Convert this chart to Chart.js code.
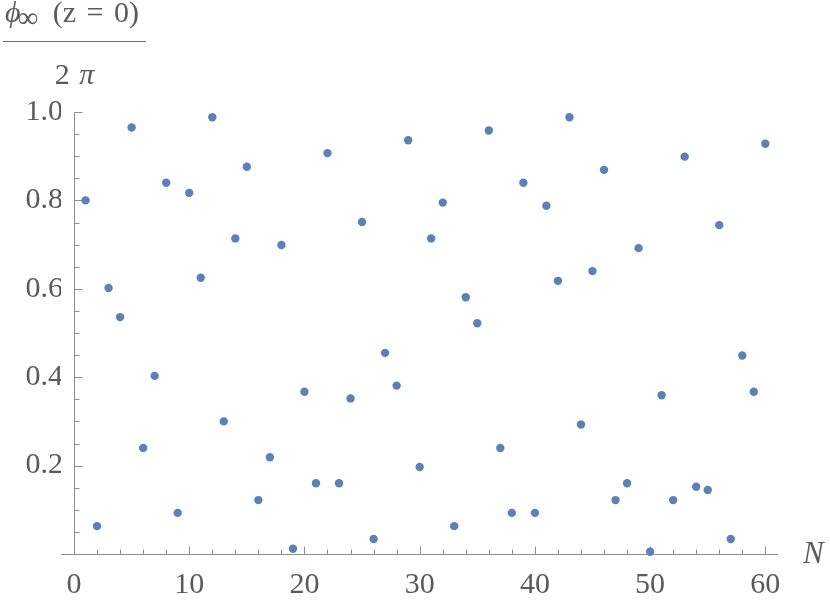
<!DOCTYPE html>
<html lang="en">
<head>
<meta charset="UTF-8" />
<title>phi_inf(z=0) / 2 pi vs N</title>
<style>
  body {
    margin: 0;
    background: white;
  }

  .wrap {
    position: relative;
    width: 830px;
    height: 608px;
    font-family: "Liberation Serif", "Times New Roman", serif;
    color: #5a5a5a;
  }

  .ylabel {
    position: absolute;
    left: 3px;
    top: -3px;
    font-size: 30px;
    line-height: 30px;
    text-align: center;
  }

  .ylabel .num {
    width: 141px;
    border-bottom: 1.5px solid #6e6e6e;
    padding: 0 0 14px 2px;
    white-space: nowrap;
    text-align: left;
    word-spacing: 3px;
  }

  .ylabel .num sub {
    font-size: 29px;
    vertical-align: -5px;
    line-height: 0;
    margin-left: -3px;
    margin-right: 4px;
  }

  .ylabel .den {
    margin-top: 17px;
    word-spacing: 2px;
  }

  .xlabel {
    position: absolute;
    left: 803px;
    top: 538px;
    font-size: 31px;
    line-height: 30px;
    font-style: italic;
  }
</style>
</head>
<body>
<div class="wrap">
  <canvas id="phaseChart"></canvas>
  <div class="ylabel">
    <div class="num"><i>ϕ</i><sub>∞</sub> (z = 0)</div>
    <div class="den">2 <i>π</i></div>
  </div>
  <div class="xlabel">N</div>
</div>

<script src="https://cdn.jsdelivr.net/npm/chart.js"></script>
<script>
  // N on the horizontal axis
  const nValues = [
    1, 2, 3, 4, 5, 6, 7, 8, 9, 10,
    11, 12, 13, 14, 15, 16, 17, 18, 19, 20,
    21, 22, 23, 24, 25, 26, 27, 28, 29, 30,
    31, 32, 33, 34, 35, 36, 37, 38, 39, 40,
    41, 42, 43, 44, 45, 46, 47, 48, 49, 50,
    51, 52, 53, 54, 55, 56, 57, 58, 59, 60
  ];

  // phi_inf(z = 0) / 2 pi
  const phaseValues = [
    0.800, 0.063, 0.602, 0.536, 0.965, 0.240, 0.403, 0.840, 0.093, 0.817,
    0.625, 0.988, 0.300, 0.714, 0.876, 0.122, 0.219, 0.699, 0.012, 0.367,
    0.160, 0.907, 0.160, 0.352, 0.751, 0.034, 0.455, 0.381, 0.936, 0.197,
    0.714, 0.795, 0.063, 0.581, 0.522, 0.958, 0.240, 0.093, 0.840, 0.093,
    0.788, 0.618, 0.988, 0.293, 0.640, 0.869, 0.122, 0.160, 0.692, 0.005,
    0.359, 0.122, 0.899, 0.152, 0.145, 0.744, 0.034, 0.449, 0.367, 0.928
  ];

  const xTickValues = [0, 10, 20, 30, 40, 50, 60];
  const yTickValues = [0.2, 0.4, 0.6, 0.8, 1.0];

  const axisColor = "#8e8e8e";
  const labelColor = "#5a5a5a";
  const pointColor = "#5e81b5";

  // Mathematica style axes: cross at the origin, ticks point inwards
  const axesPlugin = {
    id: "originAxes",
    beforeDatasetsDraw(chart) {
      const { ctx, chartArea } = chart;
      const x = chart.scales.x;
      const y = chart.scales.y;
      const x0 = Math.round(x.getPixelForValue(0)) + 0.5;
      const y0 = Math.round(y.getPixelForValue(0)) + 0.5;
      const yTop = Math.round(y.getPixelForValue(1)) + 0.5;

      ctx.save();
      ctx.strokeStyle = axisColor;
      ctx.lineWidth = 1;
      ctx.beginPath();
      ctx.moveTo(chartArea.left, y0);
      ctx.lineTo(chartArea.right, y0);
      ctx.moveTo(x0, y0);
      ctx.lineTo(x0, yTop);

      for (let v = 2; v <= 60; v += 2) {
        const px = Math.round(x.getPixelForValue(v)) + 0.5;
        const len = v % 10 === 0 ? 8 : 5;
        ctx.moveTo(px, y0);
        ctx.lineTo(px, y0 - len);
      }
      for (let i = 1; i <= 20; i++) {
        const py = Math.round(y.getPixelForValue(i * 0.05)) + 0.5;
        const len = i % 4 === 0 ? 8 : 5;
        ctx.moveTo(x0, py);
        ctx.lineTo(x0 + len, py);
      }
      ctx.stroke();
      ctx.restore();
    },
  };

  const tickFont = {
    family: '"Liberation Serif", "Times New Roman", serif',
    size: 30,
  };

  new Chart(document.getElementById("phaseChart"), {
    type: "scatter",
    data: {
      datasets: [
        {
          data: nValues.map((n, i) => ({ x: n, y: phaseValues[i] })),
          backgroundColor: pointColor,
          borderColor: pointColor,
          borderWidth: 0,
          pointRadius: 4.2,
          clip: false,
        },
      ],
    },
    options: {
      responsive: true,
      maintainAspectRatio: false,
      animation: false,
      layout: { padding: { top: 112, right: 52, left: 0, bottom: 0 } },
      plugins: {
        legend: { display: false },
        tooltip: { enabled: false },
      },
      scales: {
        x: {
          type: "linear",
          min: -1.13,
          max: 61.1,
          grid: { display: false, drawTicks: false },
          border: { display: false },
          afterBuildTicks: (s) => {
            s.ticks = xTickValues.map((v) => ({ value: v }));
          },
          afterFit: (s) => {
            s.height = 54;
          },
          ticks: {
            autoSkip: false,
            maxRotation: 0,
            padding: 13,
            font: tickFont,
            color: labelColor,
          },
        },
        y: {
          type: "linear",
          min: 0,
          max: 1,
          grid: { display: false, drawTicks: false },
          border: { display: false },
          afterBuildTicks: (s) => {
            s.ticks = yTickValues.map((v) => ({ value: v }));
          },
          afterFit: (s) => {
            s.width = 61;
          },
          ticks: {
            padding: -2,
            font: tickFont,
            color: labelColor,
            callback: (v) => v.toFixed(1),
          },
        },
      },
    },
    plugins: [axesPlugin],
  });
</script>
</body>
</html>
